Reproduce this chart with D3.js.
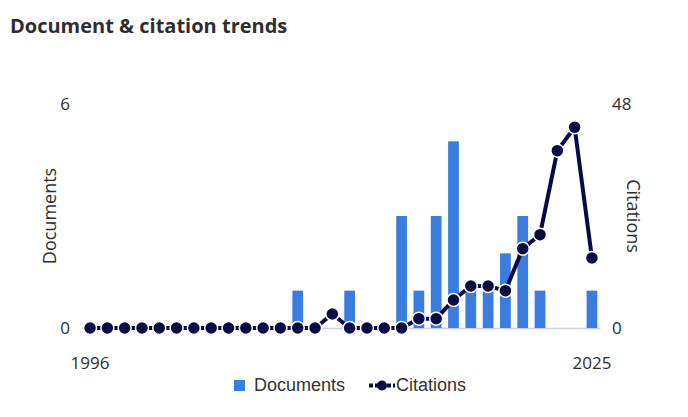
<!DOCTYPE html>
<html><head><meta charset="utf-8">
<script src="https://cdn.jsdelivr.net/npm/d3@7"></script>
<style>
body{margin:0;background:#fff;}
svg{display:block;}
</style></head>
<body><svg id="chart" width="688" height="417"></svg>
<script>
const years = d3.range(1996, 2026);
const documents = [0,0,0,0,0,0,0,0,0,0,0,0,1,0,0,1,0,0,3,1,3,5,1,1,2,3,1,0,0,1];
const citations = [0,0,0,0,0,0,0,0,0,0,0,0,0,0,3,0,0,0,0,2,2,6,9,9,8,17,20,38,43,15];
const docTicks = [0, 6];
const citTicks = [0, 48];
const xTickLabels = [1996, 2025];

const svg = d3.select("#chart");
const x = d3.scaleBand().domain(years).range([81.4, 600.6]).paddingInner(0.38).paddingOuter(0.19);
const yDoc = d3.scaleLinear().domain([0, 6]).range([328, 104]);
const yCit = d3.scaleLinear().domain([0, 48]).range([328, 104]);
const cx = d => x(d) + x.bandwidth()/2;

svg.append("text").attr("x", 10).attr("y", 33)
  .attr("font-family", "Open Sans").attr("font-weight", 700).attr("font-size", 20)
  .attr("fill", "#2e2e2e").text("Document & citation trends");

const tickFont = "Open Sans";
svg.append("g").selectAll("text").data(docTicks).join("text")
  .attr("x", 70).attr("y", d => yDoc(d) + 6).attr("text-anchor", "end")
  .attr("font-family", tickFont).attr("font-size", 17).attr("fill", "#2e2e2e").text(d => d);
svg.append("g").selectAll("text").data(citTicks).join("text")
  .attr("x", 612).attr("y", d => yCit(d) + 6).attr("text-anchor", "start")
  .attr("font-family", tickFont).attr("font-size", 17).attr("fill", "#2e2e2e").text(d => d);

svg.append("text").attr("transform", "translate(56,216) rotate(-90)")
  .attr("text-anchor", "middle").attr("font-family", tickFont).attr("font-size", 18)
  .attr("fill", "#2e2e2e").text("Documents");
svg.append("text").attr("transform", "translate(627,216) rotate(90)")
  .attr("text-anchor", "middle").attr("font-family", tickFont).attr("font-size", 18)
  .attr("fill", "#2e2e2e").text("Citations");

svg.append("g").selectAll("text").data(xTickLabels).join("text")
  .attr("x", d => cx(d)).attr("y", 369).attr("text-anchor", "middle")
  .attr("font-family", tickFont).attr("font-size", 17).attr("fill", "#2e2e2e").text(d => d);

svg.append("line").attr("x1", x.range()[0]).attr("x2", x.range()[1])
  .attr("y1", yDoc(0) + 0.5).attr("y2", yDoc(0) + 0.5)
  .attr("stroke", "#c9d2ea").attr("stroke-width", 1.5);

svg.append("g").selectAll("rect").data(years.map((y,i)=>({y, v: documents[i]}))).join("rect")
  .attr("x", d => x(d.y)).attr("width", x.bandwidth())
  .attr("y", d => yDoc(d.v)).attr("height", d => yDoc(0) - yDoc(d.v))
  .attr("fill", "#3a7de1");

const pts = years.map((y,i)=>({y, v: citations[i]}));
svg.append("path").datum(pts)
  .attr("d", d3.line().x(d => cx(d.y)).y(d => yCit(d.v)))
  .attr("fill", "none").attr("stroke", "#0a0a45").attr("stroke-width", 4);
svg.append("g").selectAll("circle").data(pts).join("circle")
  .attr("cx", d => cx(d.y)).attr("cy", d => yCit(d.v)).attr("r", 6.5)
  .attr("fill", "#0a0a45").attr("stroke", "#fff").attr("stroke-width", 1.5);

const lg = svg.append("g");
lg.append("rect").attr("x", 234).attr("y", 380).attr("width", 11).attr("height", 11).attr("fill", "#3a7de1");
lg.append("text").attr("x", 254).attr("y", 391).attr("font-family", "Liberation Sans")
  .attr("font-size", 18).attr("fill", "#333").text("Documents");
lg.append("line").attr("x1", 369).attr("x2", 395).attr("y1", 385.5).attr("y2", 385.5)
  .attr("stroke", "#0a0a45").attr("stroke-width", 4).attr("stroke-dasharray", "4,2");
lg.append("circle").attr("cx", 382).attr("cy", 385.5).attr("r", 5).attr("fill", "#0a0a45");
lg.append("text").attr("x", 396).attr("y", 391).attr("font-family", "Liberation Sans")
  .attr("font-size", 18).attr("fill", "#333").text("Citations");
</script></body></html>
